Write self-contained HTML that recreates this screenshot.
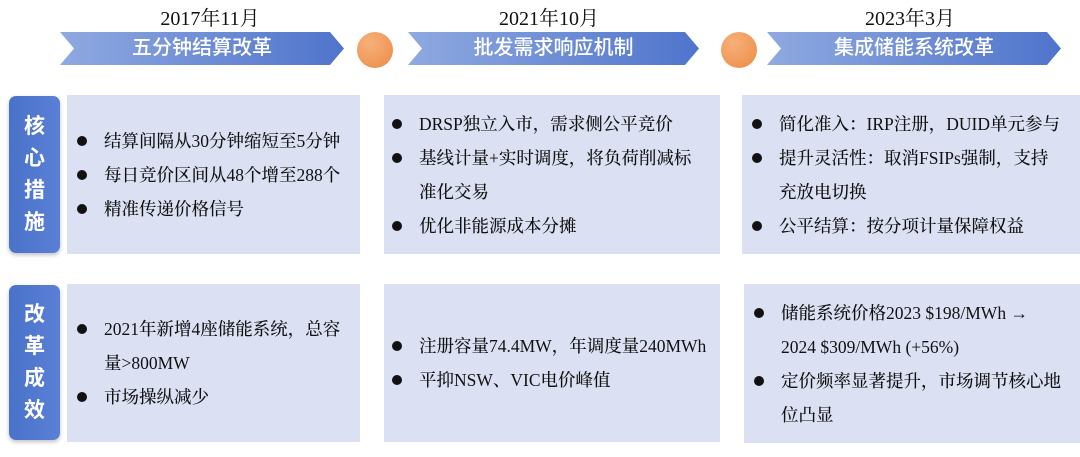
<!DOCTYPE html>
<html><head><meta charset="utf-8"><style>
body{margin:0;width:1080px;height:457px;background:#fff;position:relative;overflow:hidden;font-family:"Liberation Serif","Noto Serif CJK SC",serif;}
.date{position:absolute;top:2px;font-size:20px;color:#111;width:200px;text-align:center;}
.arrow{position:absolute;top:32px;height:33px;background:linear-gradient(90deg,#8fa9e0,#4f74cc);color:#fff;font-size:20px;font-weight:500;line-height:33px;text-align:center;font-family:"Liberation Sans","Noto Sans CJK SC",sans-serif;
clip-path:polygon(0 0,calc(100% - 14px) 0,100% 50%,calc(100% - 14px) 100%,0 100%,14px 50%);}
.dot{position:absolute;top:32px;width:36px;height:36px;border-radius:50%;background:radial-gradient(circle at 35% 30%,#f7b07a,#ec8b45);}
.lab{position:absolute;left:9px;width:51px;border-radius:7px;background:linear-gradient(90deg,#4a72c9,#5a80d6);color:#fff;font-size:21px;font-weight:700;font-family:"Liberation Sans","Noto Sans CJK SC",sans-serif;display:flex;flex-direction:column;align-items:center;justify-content:center;line-height:32px;box-shadow:0 2px 4px rgba(0,0,0,.25);}
.pan{position:absolute;background:#dbe1f3;display:flex;flex-direction:column;justify-content:center;box-sizing:border-box;}
.pan div{position:relative;font-size:17.5px;line-height:34px;color:#111;font-weight:500;padding-left:27px;white-space:nowrap;}
.pan div.b::before{content:"";position:absolute;left:0;top:12px;width:10px;height:10px;border-radius:50%;background:#111;}
</style></head><body>
<div class="date" style="left:110px">2017年11月</div>
<div class="date" style="left:449px">2021年10月</div>
<div class="date" style="left:810px">2023年3月</div>
<div class="arrow" style="left:60px;width:284px">五分钟结算改革</div>
<div class="dot" style="left:357px"></div>
<div class="arrow" style="left:408px;width:291px">批发需求响应机制</div>
<div class="dot" style="left:721px"></div>
<div class="arrow" style="left:767px;width:294px">集成储能系统改革</div>

<div class="lab" style="top:96px;height:157px">核<br>心<br>措<br>施</div>
<div class="lab" style="top:285px;height:155px">改<br>革<br>成<br>效</div>

<div class="pan" style="left:67px;top:95px;width:293px;height:159px;padding-left:10px">
<div class="b">结算间隔从30分钟缩短至5分钟</div>
<div class="b">每日竞价区间从48个增至288个</div>
<div class="b">精准传递价格信号</div></div>
<div class="pan" style="left:384px;top:95px;width:336px;height:159px;padding-left:8px">
<div class="b">DRSP独立入市，需求侧公平竞价</div>
<div class="b">基线计量+实时调度，将负荷削减标</div>
<div>准化交易</div>
<div class="b">优化非能源成本分摊</div></div>
<div class="pan" style="left:742px;top:95px;width:338px;height:159px;padding-left:10px">
<div class="b">简化准入：IRP注册，DUID单元参与</div>
<div class="b">提升灵活性：取消FSIPs强制，支持</div>
<div>充放电切换</div>
<div class="b">公平结算：按分项计量保障权益</div></div>

<div class="pan" style="left:67px;top:284px;width:293px;height:158px;padding-left:10px">
<div class="b">2021年新增4座储能系统，总容</div>
<div>量&gt;800MW</div>
<div class="b">市场操纵减少</div></div>
<div class="pan" style="left:384px;top:284px;width:336px;height:158px;padding-left:8px">
<div class="b">注册容量74.4MW，年调度量240MWh</div>
<div class="b">平抑NSW、VIC电价峰值</div></div>
<div class="pan" style="left:744px;top:284px;width:336px;height:159px;padding-left:10px">
<div class="b">储能系统价格2023 $198/MWh →</div>
<div>2024 $309/MWh (+56%)</div>
<div class="b">定价频率显著提升，市场调节核心地</div>
<div>位凸显</div></div>
</body></html>
